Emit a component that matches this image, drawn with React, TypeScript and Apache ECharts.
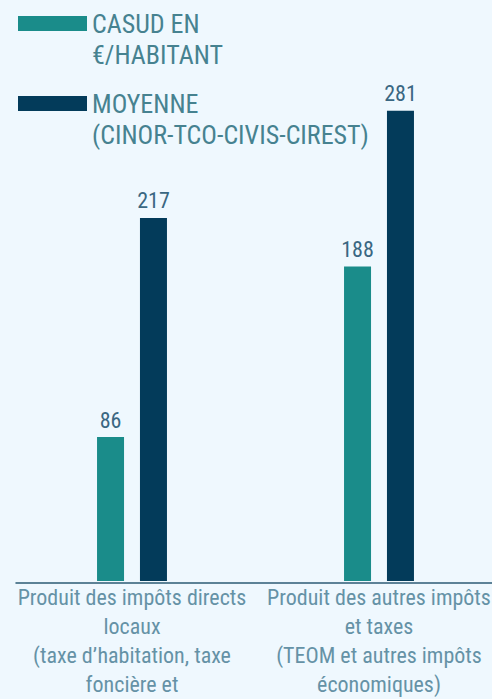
import React, { useEffect, useRef } from "react";
import * as echarts from "echarts";

const categories = [
  "Produit des impôts directs\nlocaux\n(taxe d’habitation, taxe\nfoncière et",
  "Produit des autres impôts\net taxes\n(TEOM et autres impôts\néconomiques)",
];
const casudValues = [86, 188];
const moyenneValues = [217, 281];
const seriesNames = ["CASUD EN €/HABITANT", "MOYENNE (CINOR-TCO-CIVIS-CIREST)"];
const legendLabels = ["CASUD EN\n€/HABITANT", "MOYENNE\n(CINOR-TCO-CIVIS-CIREST)"];

const FONT = "'Liberation Sans Narrow', 'Roboto Condensed', Roboto, sans-serif";
const BG = "#eff8fe";
const TEAL = "#1a8c8a";
const NAVY = "#033b5a";

export default function App() {
  const ref = useRef<HTMLDivElement>(null);
  useEffect(() => {
    document.body.style.margin = "0";
    document.body.style.overflow = "hidden";
    document.body.style.background = BG;
    const chart = echarts.init(ref.current!, undefined, { renderer: "svg" });
    const legendBase = {
      orient: "vertical",
      left: 18,
      padding: 0,
      itemWidth: 69,
      itemHeight: 15,
      itemGap: 0,
      icon: "rect",
      selectedMode: false,
      textStyle: {
        fontFamily: FONT,
        fontSize: 26,
        lineHeight: 31,
        color: "#468290",
        padding: [12, 0, 0, 0],
      },
    };
    chart.setOption({
      animation: false,
      backgroundColor: BG,
      textStyle: { fontFamily: FONT },
      legend: [
        {
          ...legendBase,
          top: -29,
          data: [seriesNames[0]],
          formatter: () => "\n" + legendLabels[0],
        },
        {
          ...legendBase,
          top: 51,
          data: [seriesNames[1]],
          formatter: () => "\n" + legendLabels[1],
        },
      ],
      grid: [
        { left: 8.5, width: 494, top: 79, bottom: 116 },
        { left: 16, width: 487, top: 79, bottom: 116 },
      ],
      xAxis: [
        {
          type: "category",
          gridIndex: 0,
          data: categories,
          axisLine: { show: false },
          axisTick: { show: false },
          axisLabel: {
            interval: 0,
            margin: 2,
            fontFamily: FONT,
            fontSize: 22,
            lineHeight: 29,
            color: "#6592a6",
          },
        },
        {
          type: "category",
          gridIndex: 1,
          data: [""],
          axisLine: { show: true, lineStyle: { color: "#2c5b74", width: 1.5 } },
          axisTick: { show: false },
          axisLabel: { show: false },
        },
      ],
      yAxis: [
        { type: "value", gridIndex: 0, min: 0, max: 300, show: false, splitLine: { show: false } },
        { type: "value", gridIndex: 1, min: 0, max: 1, show: false, splitLine: { show: false } },
      ],
      series: [
        {
          name: seriesNames[0],
          type: "bar",
          xAxisIndex: 0,
          yAxisIndex: 0,
          data: casudValues,
          barWidth: 27,
          barGap: "59%",
          itemStyle: { color: TEAL },
          label: {
            show: true,
            position: "top",
            distance: 6,
            fontFamily: FONT,
            fontSize: 22,
            color: "#3a6782",
          },
        },
        {
          name: seriesNames[1],
          type: "bar",
          xAxisIndex: 0,
          yAxisIndex: 0,
          data: moyenneValues,
          barWidth: 27,
          barGap: "59%",
          itemStyle: { color: NAVY },
          label: {
            show: true,
            position: "top",
            distance: 6,
            fontFamily: FONT,
            fontSize: 22,
            color: "#3a6782",
          },
        },
      ],
    });
    return () => chart.dispose();
  }, []);
  return <div ref={ref} style={{ width: 503, height: 699 }} />;
}
